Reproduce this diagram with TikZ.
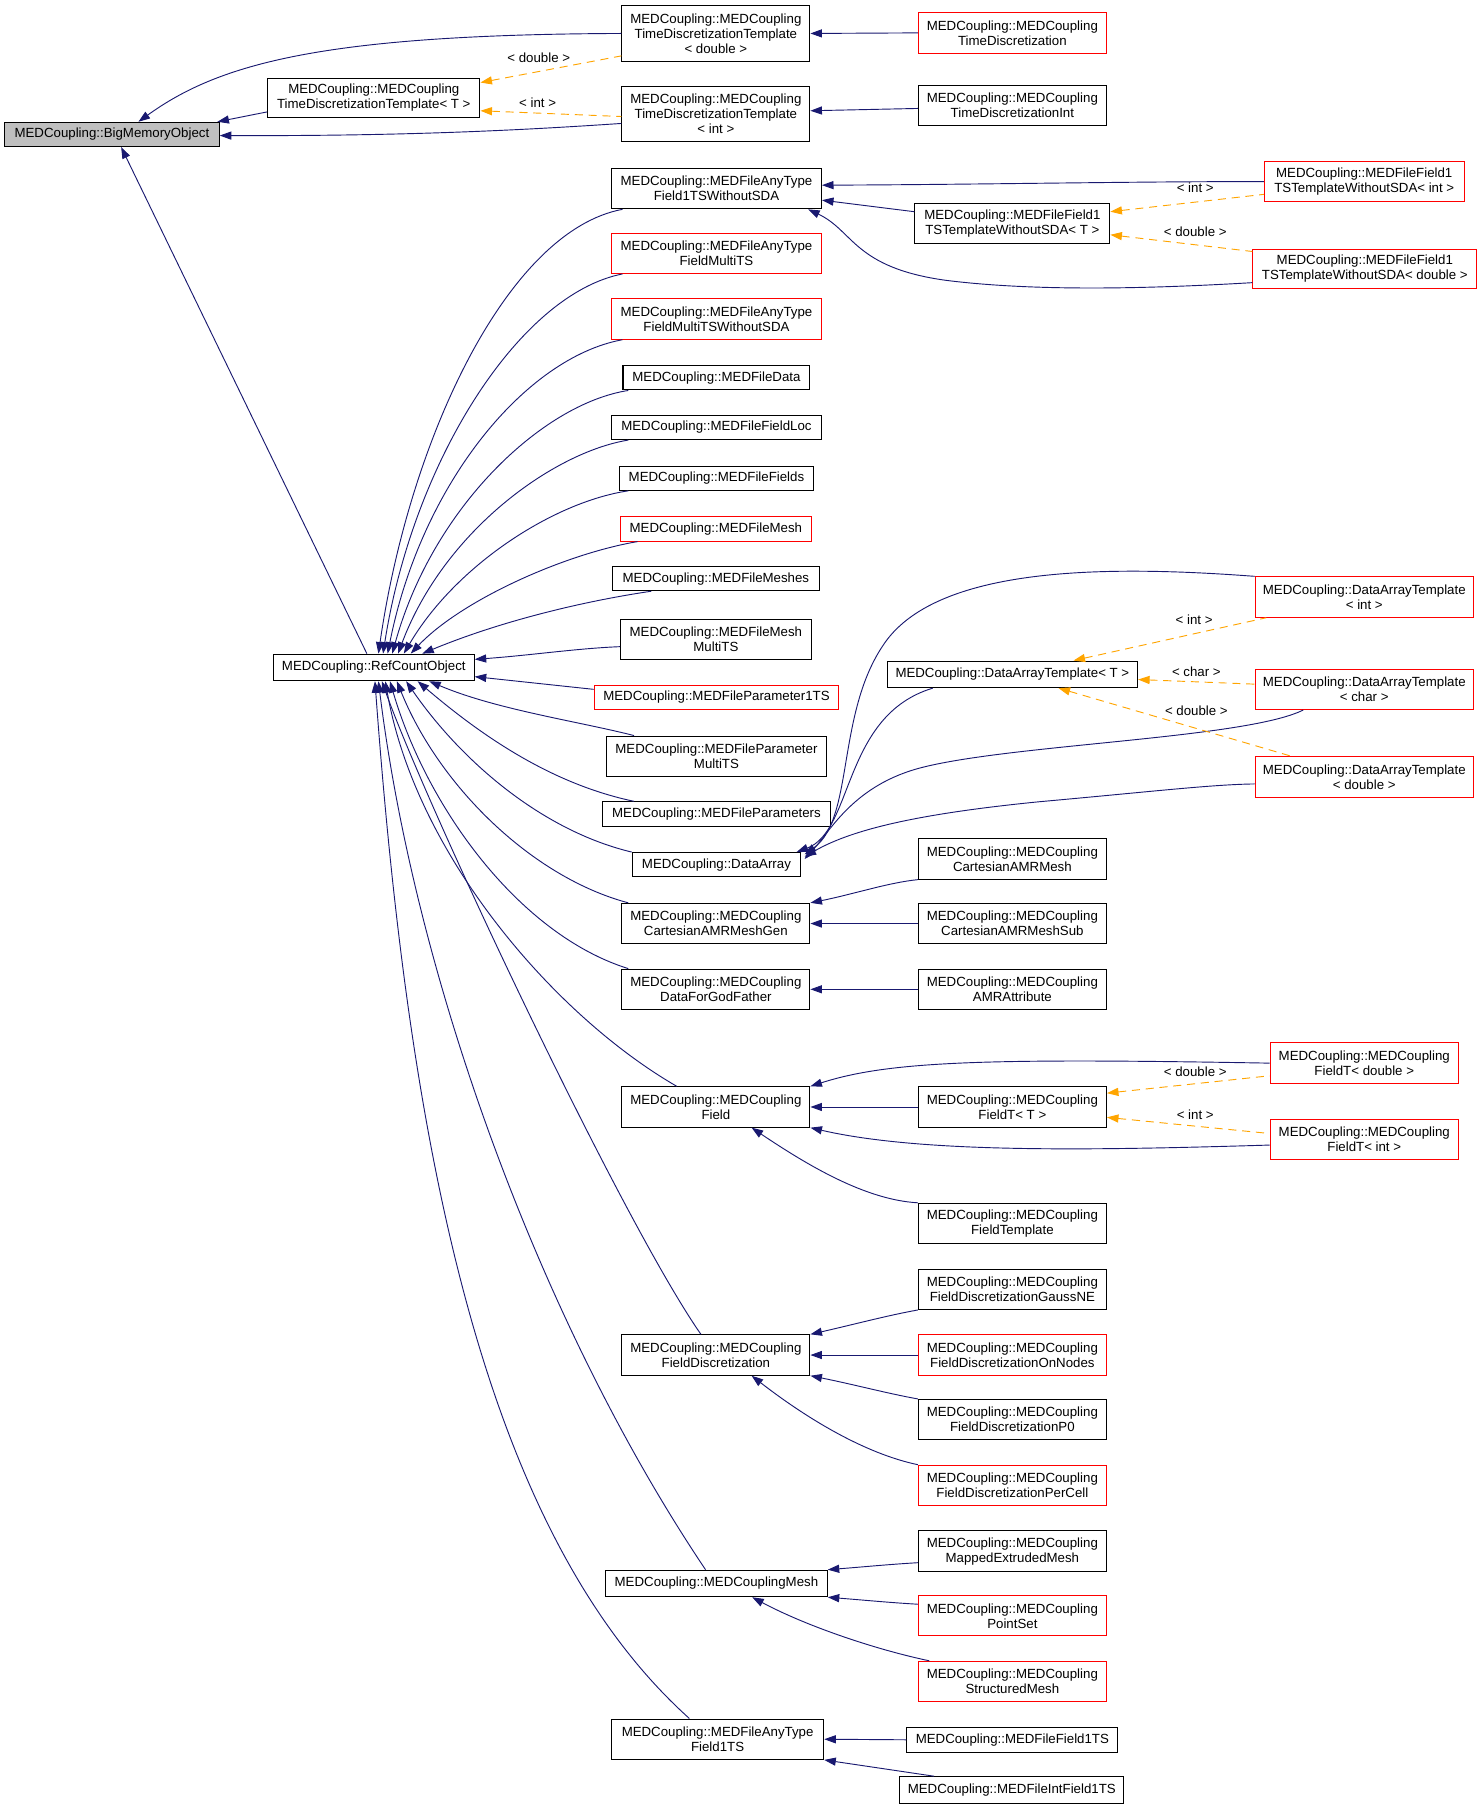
\documentclass[tikz,border=0pt]{standalone}
\usepackage{fontspec}
\setmainfont{Liberation Sans}
\usetikzlibrary{arrows.meta,calc}
\definecolor{navy}{HTML}{191970}
\definecolor{dxorange}{HTML}{FFA500}
\definecolor{dxgray}{HTML}{BFBFBF}
\newcommand{\lblfont}{\fontsize{11.5}{13}\selectfont}
\begin{document}
\begin{tikzpicture}[x=1pt,y=-1pt,
  box/.style={draw=black,line width=0.9pt,fill=white,inner sep=0pt,align=center,font=\lblfont},
  redbox/.style={box,draw=red},
  edge/.style={draw=navy,line width=0.8pt,{Triangle[length=10pt,width=7pt]}-},
  tmpl/.style={draw=dxorange,line width=0.8pt,dash pattern=on 7pt off 5pt,{Triangle[length=10pt,width=7pt]}-},
  lbl/.style={font=\lblfont,inner sep=0pt}]
\fill[white] (0,0) rectangle (1284,1568);
\useasboundingbox (0,0) rectangle (1284,1568);
% nodes
\node[box,fill=dxgray,minimum width=186,minimum height=21] (bmo) at (97,116.5) {MEDCoupling::BigMemoryObject};
\node[box,minimum width=184,minimum height=34] (tdtT) at (324,85) {MEDCoupling::MEDCoupling\\TimeDiscretizationTemplate< T >};
\node[box,minimum width=163,minimum height=48] (tdtD) at (620.5,29) {MEDCoupling::MEDCoupling\\TimeDiscretizationTemplate\\< double >};
\node[box,minimum width=163,minimum height=48] (tdtI) at (620.5,99) {MEDCoupling::MEDCoupling\\TimeDiscretizationTemplate\\< int >};
\node[redbox,minimum width=163,minimum height=35] (td) at (877.5,28.5) {MEDCoupling::MEDCoupling\\TimeDiscretization};
\node[box,minimum width=163,minimum height=35] (tdi) at (877.5,91.5) {MEDCoupling::MEDCoupling\\TimeDiscretizationInt};
\node[box,minimum width=182,minimum height=35] (mfatws) at (621,163.5) {MEDCoupling::MEDFileAnyType\\Field1TSWithoutSDA};
\node[redbox,minimum width=173,minimum height=35] (mffI) at (1182.5,157.5) {MEDCoupling::MEDFileField1\\TSTemplateWithoutSDA< int >};
\node[box,minimum width=169,minimum height=35] (mffT) at (877.5,193.5) {MEDCoupling::MEDFileField1\\TSTemplateWithoutSDA< T >};
\node[redbox,minimum width=194,minimum height=34] (mffD) at (1183,233) {MEDCoupling::MEDFileField1\\TSTemplateWithoutSDA< double >};
\node[redbox,minimum width=182,minimum height=35] (fmts) at (621,219.5) {MEDCoupling::MEDFileAnyType\\FieldMultiTS};
\node[redbox,minimum width=182,minimum height=35] (fmtsws) at (621,276.5) {MEDCoupling::MEDFileAnyType\\FieldMultiTSWithoutSDA};
\node[box,minimum width=162,minimum height=21] (fdata) at (621,327.5) {MEDCoupling::MEDFileData};
\node[box,minimum width=182,minimum height=21] (floc) at (621,370.5) {MEDCoupling::MEDFileFieldLoc};
\node[box,minimum width=168,minimum height=21] (ffields) at (621,414.5) {MEDCoupling::MEDFileFields};
\node[redbox,minimum width=165,minimum height=21] (fmesh) at (620.5,458.5) {MEDCoupling::MEDFileMesh};
\node[box,minimum width=179,minimum height=21] (fmeshes) at (620.5,501.5) {MEDCoupling::MEDFileMeshes};
\node[box,minimum width=165,minimum height=35] (fmeshmts) at (620.5,554.5) {MEDCoupling::MEDFileMesh\\MultiTS};
\node[redbox,minimum width=212,minimum height=21] (fp1ts) at (621,604.5) {MEDCoupling::MEDFileParameter1TS};
\node[box,minimum width=190,minimum height=35] (fpmts) at (621,655.5) {MEDCoupling::MEDFileParameter\\MultiTS};
\node[box,minimum width=198,minimum height=21] (fparams) at (621,705.5) {MEDCoupling::MEDFileParameters};
\node[box,minimum width=146,minimum height=21] (da) at (621,749.5) {MEDCoupling::DataArray};
\node[box,minimum width=163,minimum height=35] (camrg) at (620.5,800.5) {MEDCoupling::MEDCoupling\\CartesianAMRMeshGen};
\node[box,minimum width=163,minimum height=35] (dfgf) at (620.5,857.5) {MEDCoupling::MEDCoupling\\DataForGodFather};
\node[box,minimum width=163,minimum height=35] (field) at (620.5,959.5) {MEDCoupling::MEDCoupling\\Field};
\node[box,minimum width=163,minimum height=35] (fd) at (620.5,1174.5) {MEDCoupling::MEDCoupling\\FieldDiscretization};
\node[box,minimum width=192,minimum height=23] (mcmesh) at (621,1372.5) {MEDCoupling::MEDCouplingMesh};
\node[box,minimum width=184,minimum height=35] (mfat1ts) at (622,1507.5) {MEDCoupling::MEDFileAnyType\\Field1TS};
\node[box,minimum width=174,minimum height=23] (rco) at (324,578.5) {MEDCoupling::RefCountObject};
\node[box,minimum width=217,minimum height=23] (datT) at (877.5,584.5) {MEDCoupling::DataArrayTemplate< T >};
\node[redbox,minimum width=189,minimum height=35] (datI) at (1182.5,517.5) {MEDCoupling::DataArrayTemplate\\< int >};
\node[redbox,minimum width=189,minimum height=35] (datC) at (1182.5,597.5) {MEDCoupling::DataArrayTemplate\\< char >};
\node[redbox,minimum width=189,minimum height=35] (datD) at (1182.5,673.5) {MEDCoupling::DataArrayTemplate\\< double >};
\node[box,minimum width=163,minimum height=35] (camr) at (877.5,744.5) {MEDCoupling::MEDCoupling\\CartesianAMRMesh};
\node[box,minimum width=163,minimum height=35] (camrs) at (877.5,800.5) {MEDCoupling::MEDCoupling\\CartesianAMRMeshSub};
\node[box,minimum width=163,minimum height=35] (amr) at (877.5,857.5) {MEDCoupling::MEDCoupling\\AMRAttribute};
\node[redbox,minimum width=163,minimum height=35] (ftD) at (1182.5,921.5) {MEDCoupling::MEDCoupling\\FieldT< double >};
\node[box,minimum width=163,minimum height=35] (ftT) at (877.5,959.5) {MEDCoupling::MEDCoupling\\FieldT< T >};
\node[redbox,minimum width=163,minimum height=35] (ftI) at (1182.5,987.5) {MEDCoupling::MEDCoupling\\FieldT< int >};
\node[box,minimum width=163,minimum height=35] (ftmpl) at (877.5,1060.5) {MEDCoupling::MEDCoupling\\FieldTemplate};
\node[box,minimum width=163,minimum height=35] (gne) at (877.5,1117.5) {MEDCoupling::MEDCoupling\\FieldDiscretizationGaussNE};
\node[redbox,minimum width=163,minimum height=35] (onn) at (877.5,1174.5) {MEDCoupling::MEDCoupling\\FieldDiscretizationOnNodes};
\node[box,minimum width=163,minimum height=35] (p0) at (877.5,1230.5) {MEDCoupling::MEDCoupling\\FieldDiscretizationP0};
\node[redbox,minimum width=163,minimum height=35] (pc) at (877.5,1287.5) {MEDCoupling::MEDCoupling\\FieldDiscretizationPerCell};
\node[box,minimum width=163,minimum height=35] (mem) at (877.5,1344.5) {MEDCoupling::MEDCoupling\\MappedExtrudedMesh};
\node[redbox,minimum width=163,minimum height=35] (ps) at (877.5,1400.5) {MEDCoupling::MEDCoupling\\PointSet};
\node[redbox,minimum width=163,minimum height=35] (sm) at (877.5,1457.5) {MEDCoupling::MEDCoupling\\StructuredMesh};
\node[box,minimum width=183,minimum height=22] (mff1ts) at (877.5,1508) {MEDCoupling::MEDFileField1TS};
\node[box,minimum width=194,minimum height=23] (mfif1ts) at (877,1551.5) {MEDCoupling::MEDFileIntField1TS};
% edges: top
\draw[edge] ($(bmo.north)+(23,0)$) .. controls (190,55) and (280,30) .. (tdtD.west);
\draw[edge] ($(bmo.north east)+(-2,0)$) -- ($(tdtT.west)+(0,12)$);
\draw[edge] ($(bmo.east)+(0,1)$) .. controls (350,118) and (450,113) .. ($(tdtI.west)+(0,8)$);
\draw[edge] ($(bmo.south)+(8,0)$) -- ($(rco.north)+(-6,0)$);
\draw[tmpl] ($(tdtT.north east)+(0,4)$) -- ($(tdtD.south west)+(0,-5)$);
\node[lbl] (l1) at (467,50) {< double >};
\draw[tmpl] ($(tdtT.east)+(0,11)$) -- ($(tdtI.west)+(0,2)$);
\node[lbl] (l2) at (466,89) {< int >};
\draw[edge] (tdtD.east) -- (td.west);
\draw[edge] ($(tdtI.east)+(0,-3)$) -- ($(tdi.west)+(0,2.5)$);
% MEDFileField1TS templates
\draw[edge] ($(mfatws.east)+(0,-3)$) .. controls (850,160) and (1000,157) .. (mffI.west);
\draw[edge] ($(mfatws.east)+(0,10)$) -- ($(mffT.west)+(0,-10)$);
\draw[edge] ($(mfatws.south east)+(-12,0)$) .. controls (740,200) and (740,232) .. (820,243) .. controls (900,253) and (1000,250) .. ($(mffD.west)+(0,12)$);
\draw[tmpl] ($(mffT.east)+(0,-10)$) -- ($(mffI.south west)+(0,-7)$);
\node[lbl] (l3) at (1036,163) {< int >};
\draw[tmpl] ($(mffT.east)+(0,10)$) -- ($(mffD.west)+(0,-15)$);
\node[lbl] (l4) at (1036,201) {< double >};
% RefCountObject children (upper)
\draw[edge] ($(rco.north)+(4,0)$) .. controls (355,380) and (440,200) .. ($(mfatws.south west)+(10,0)$);
\draw[edge] ($(rco.north)+(8,0)$) .. controls (358,400) and (450,255) .. ($(fmts.south west)+(10,0)$);
\draw[edge] ($(rco.north)+(12,0)$) .. controls (365,420) and (455,310) .. ($(fmtsws.south west)+(10,0)$);
\draw[edge] ($(rco.north)+(16,0)$) .. controls (375,440) and (470,350) .. ($(fdata.south west)+(5,0)$);
\draw[edge] ($(rco.north)+(21,0)$) .. controls (385,460) and (480,392) .. ($(floc.south west)+(15,0)$);
\draw[edge] ($(rco.north)+(26,0)$) .. controls (395,490) and (480,435) .. ($(ffields.south west)+(8,0)$);
\draw[edge] ($(rco.north)+(32,0)$) .. controls (400,520) and (490,480) .. ($(fmesh.south west)+(15,0)$);
\draw[edge] ($(rco.north)+(42,0)$) .. controls (430,540) and (500,522) .. ($(fmeshes.south west)+(34,0)$);
\draw[edge] ($(rco.east)+(0,-7)$) .. controls (460,568) and (500,562) .. ($(fmeshmts.west)+(0,6)$);
\draw[edge] ($(rco.east)+(0,8)$) -- ($(fp1ts.west)+(0,-7)$);
% RefCountObject children (lower)
\draw[edge] ($(rco.south)+(48,0)$) .. controls (430,615) and (500,625) .. ($(fpmts.north west)+(24,0)$);
\draw[edge] ($(rco.south)+(38,0)$) .. controls (420,640) and (480,680) .. ($(fparams.north west)+(28,0)$);
\draw[edge] ($(rco.south)+(28,0)$) .. controls (400,660) and (470,720) .. (da.north west);
\draw[edge] ($(rco.south)+(20,0)$) .. controls (380,680) and (460,760) .. ($(camrg.north west)+(6,0)$);
\draw[edge] ($(rco.south)+(14,0)$) .. controls (370,700) and (450,810) .. ($(dfgf.north west)+(6,0)$);
\draw[edge] ($(rco.south)+(10,0)$) .. controls (360,740) and (480,880) .. ($(field.north west)+(48,0)$);
\draw[edge] ($(rco.south)+(7,0)$) .. controls (370,700) and (540,1060) .. ($(fd.north west)+(69,0)$);
\draw[edge] ($(rco.south)+(4,0)$) .. controls (360,850) and (470,1150) .. ($(mcmesh.north west)+(87,0)$);
\draw[edge] ($(rco.south)+(1,0)$) .. controls (355,1000) and (420,1330) .. ($(mfat1ts.north west)+(68,0)$);
% DataArray
\draw[edge] ($(da.north east)+(-4,0)$) .. controls (740,720) and (730,620) .. ($(datT.south west)+(40,0)$);
\draw[edge] ($(da.north east)+(3,2)$) .. controls (740,710) and (725,620) .. (765,560) .. controls (810,490) and (960,490) .. (datI.north west);
\draw[edge] ($(da.north east)+(3,6)$) .. controls (720,720) and (740,680) .. (800,665) .. controls (880,645) and (1080,640) .. ($(datC.south west)+(42,0)$);
\draw[edge] ($(da.north east)+(3,4)$) .. controls (740,718) and (800,705) .. (900,695) .. controls (1000,686) and (1050,680) .. ($(datD.west)+(0,6)$);
\draw[tmpl] ($(datT.north)+(53,0)$) -- ($(datI.south west)+(10,0)$);
\node[lbl] (l5) at (1035,537) {< int >};
\draw[tmpl] ($(datT.east)+(0,4.5)$) -- ($(datC.west)+(0,-4.5)$);
\node[lbl] (l6) at (1037,582) {< char >};
\draw[tmpl] ($(datT.south)+(40,0)$) -- ($(datD.north west)+(32,0)$);
\node[lbl] (l7) at (1037,616) {< double >};
% AMR
\draw[edge] (camrg.north east) .. controls (740,775) and (770,765) .. (camr.south west);
\draw[edge] (camrg.east) -- (camrs.west);
\draw[edge] (dfgf.east) -- (amr.west);
% Field
\draw[edge] (field.north east) .. controls (770,920) and (850,917) .. (ftD.west);
\draw[edge] (field.east) -- (ftT.west);
\draw[edge] (field.south east) .. controls (800,1000) and (950,997) .. ($(ftI.west)+(0,5)$);
\draw[tmpl] ($(ftT.east)+(0,-12)$) -- ($(ftD.south west)+(0,-7)$);
\node[lbl] (l8) at (1036,929) {< double >};
\draw[tmpl] ($(ftT.east)+(0,9)$) -- ($(ftI.west)+(0,-5)$);
\node[lbl] (l9) at (1036,966) {< int >};
\draw[edge] ($(field.south)+(31,0)$) .. controls (700,1010) and (750,1040) .. (ftmpl.north west);
% FieldDiscretization
\draw[edge] (fd.north east) .. controls (740,1148) and (770,1140) .. (gne.south west);
\draw[edge] (fd.east) -- (onn.west);
\draw[edge] (fd.south east) .. controls (740,1200) and (770,1208) .. (p0.north west);
\draw[edge] ($(fd.south)+(31,0)$) .. controls (700,1230) and (750,1260) .. (pc.north west);
% Mesh
\draw[edge] (mcmesh.north east) .. controls (750,1358) and (770,1356) .. ($(mem.west)+(0,10)$);
\draw[edge] (mcmesh.south east) .. controls (750,1387) and (770,1389) .. ($(ps.west)+(0,-10)$);
\draw[edge] ($(mcmesh.south)+(31,0)$) .. controls (700,1410) and (760,1430) .. ($(sm.north west)+(10,0)$);
% MEDFileAnyTypeField1TS
\draw[edge] (mfat1ts.east) -- (mff1ts.west);
\draw[edge] (mfat1ts.south east) -- ($(mfif1ts.north west)+(30,0)$);
\end{tikzpicture}
\end{document}
